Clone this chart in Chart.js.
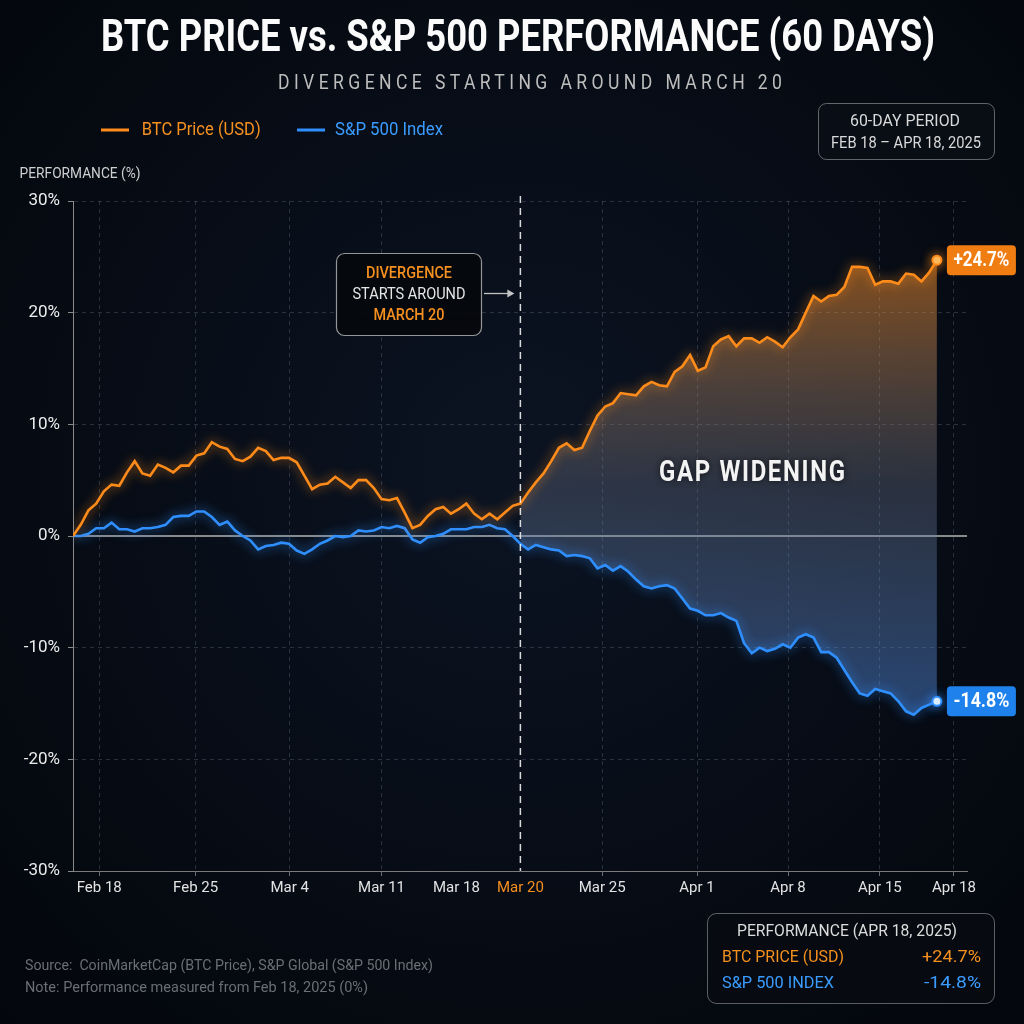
<!DOCTYPE html>
<html><head><meta charset="utf-8">
<script src="https://cdn.jsdelivr.net/npm/chart.js@4.4.1/dist/chart.umd.min.js"></script>
<style>html,body{margin:0;padding:0;background:#050910;}canvas{display:block;}</style>
</head><body>
<canvas id="c" width="1024" height="1024"></canvas>
<script>
// ---------- DATA ----------
const seriesNames = ['BTC Price (USD)', 'S&P 500 Index'];
const btcValues = [
  0.0, 1.0, 2.3, 2.9, 4.0, 4.6, 4.5, 5.7, 6.7, 5.6,
  5.4, 6.4, 6.1, 5.7, 6.3, 6.3, 7.2, 7.4, 8.4, 8.0,
  7.8, 6.9, 6.7, 7.1, 7.9, 7.6, 6.8, 7.0, 7.0, 6.6,
  5.4, 4.2, 4.6, 4.7, 5.3, 4.8, 4.3, 5.0, 5.0, 4.3,
  3.3, 3.2, 3.4, 2.1, 0.7, 1.0, 1.8, 2.4, 2.6, 2.0,
  2.4, 2.9, 2.0, 1.5, 2.0, 1.5, 2.1, 2.7, 2.9, 3.9,
  4.8, 5.6, 6.7, 7.9, 8.3, 7.7, 7.9, 9.4, 10.8, 11.6,
  11.9, 12.8, 12.7, 12.6, 13.4, 13.8, 13.5, 13.4, 14.7, 15.2,
  16.2, 14.8, 15.1, 17.0, 17.6, 17.9, 17.0, 17.7, 17.7, 17.3,
  17.8, 17.4, 16.9, 17.8, 18.5, 20.0, 21.5, 21.0, 21.5, 21.6,
  22.3, 24.1, 24.1, 24.0, 22.5, 22.8, 22.8, 22.6, 23.5, 23.4,
  22.8, 23.6, 24.7
];
const spxValues = [
  0.0, 0.0, 0.2, 0.7, 0.7, 1.2, 0.6, 0.6, 0.4, 0.7,
  0.7, 0.8, 1.0, 1.7, 1.8, 1.8, 2.2, 2.2, 1.7, 1.0,
  1.3, 0.5, 0.0, -0.4, -1.2, -0.9, -0.8, -0.6, -0.7, -1.3,
  -1.6, -1.2, -0.7, -0.4, 0.0, -0.1, 0.0, 0.5, 0.4, 0.5,
  0.8, 0.7, 0.9, 0.7, -0.3, -0.6, -0.1, 0.0, 0.2, 0.6,
  0.6, 0.6, 0.8, 0.8, 1.0, 0.7, 0.6, 0.0, -0.7, -1.2,
  -0.8, -1.0, -1.2, -1.3, -1.8, -1.7, -1.8, -2.0, -2.9, -2.6,
  -3.1, -2.7, -3.2, -3.9, -4.5, -4.7, -4.5, -4.4, -4.7, -5.6,
  -6.5, -6.7, -7.1, -7.1, -6.9, -7.3, -7.6, -9.6, -10.5, -10.0,
  -10.3, -10.1, -9.7, -10.0, -9.1, -8.8, -9.1, -10.4, -10.4, -10.9,
  -12.0, -13.1, -14.1, -14.3, -13.7, -13.9, -14.1, -14.8, -15.7, -16.0,
  -15.4, -15.1, -14.8
];
const tickValues = [3.4, 15.9, 28.1, 40.0, 49.7, 58, 68.6, 80.9, 92.7, 104.6, 114.2];
const tickLabels = ['Feb 18', 'Feb 25', 'Mar 4', 'Mar 11', 'Mar 18', 'Mar 20', 'Mar 25', 'Apr 1', 'Apr 8', 'Apr 15', 'Apr 18'];
const divergenceIndex = 58;
const divergenceLabel = 'Mar 20';

// ---------- STYLE ----------
const ORANGE = '#ff8c1a', BLUE = '#2f8fff';
const ORANGE_TXT = '#f6901f', BLUE_TXT = '#3b9cff';
const GRID = 'rgba(130,140,160,0.28)';
const FONT = 'Roboto, "Noto Sans", sans-serif';
const last = btcValues.length - 1;
const fmt = v => (v > 0 ? '+' : '') + v.toFixed(1) + '%';

function drawText(ctx, str, x, y, o) {
  ctx.save();
  ctx.font = o.font;
  ctx.fillStyle = o.color;
  ctx.textBaseline = 'middle';
  ctx.textAlign = 'left';
  const ls = o.ls || 0;
  const hasLs = 'letterSpacing' in ctx;
  if (hasLs) ctx.letterSpacing = ls + 'px';
  let w = ctx.measureText(str).width;
  if (ls && hasLs) w -= ls;
  const sx = o.width ? o.width / w : (o.sx || 1);
  const dw = w * sx;
  const left = o.align === 'center' ? x - dw / 2 : (o.align === 'right' ? x - dw : x);
  if (o.shadow) { ctx.shadowColor = o.shadow; ctx.shadowBlur = o.blur || 6; }
  ctx.translate(left, y);
  ctx.scale(sx, 1);
  ctx.fillText(str, 0, 0);
  ctx.restore();
}
function rrect(ctx, x, y, w, h, r, fill, stroke, lw) {
  ctx.save();
  ctx.beginPath();
  ctx.roundRect(x, y, w, h, r);
  if (fill) { ctx.fillStyle = fill; ctx.fill(); }
  if (stroke) { ctx.strokeStyle = stroke; ctx.lineWidth = lw || 1; ctx.stroke(); }
  ctx.restore();
}

const decor = {
  id: 'decor',
  beforeDraw(chart) {
    const ctx = chart.ctx, W = chart.width, H = chart.height;
    const g = ctx.createRadialGradient(520, 470, 50, 520, 470, 760);
    g.addColorStop(0, '#0b1321');
    g.addColorStop(1, '#03060b');
    ctx.save(); ctx.fillStyle = g; ctx.fillRect(0, 0, W, H); ctx.restore();
  },
  beforeDatasetsDraw(chart) {
    const ctx = chart.ctx, ca = chart.chartArea, y0 = chart.scales.y.getPixelForValue(0);
    ctx.save();
    ctx.strokeStyle = '#b4b4b4'; ctx.lineWidth = 1.5;
    ctx.beginPath(); ctx.moveTo(ca.left, y0); ctx.lineTo(ca.right, y0); ctx.stroke();
    ctx.restore();
  },
  beforeDatasetDraw(chart, args) {
    if (args.index > 1) return;
    const ctx = chart.ctx;
    ctx.save();
    ctx.shadowColor = args.index === 0 ? 'rgba(255,140,26,0.8)' : 'rgba(47,143,255,0.85)';
    ctx.shadowBlur = 11;
  },
  afterDatasetDraw(chart, args) {
    if (args.index > 1) return;
    chart.ctx.restore();
  },
  afterDatasetsDraw(chart) {
    const ctx = chart.ctx, ca = chart.chartArea;
    const xs = chart.scales.x;
    const dx = xs.getPixelForValue(divergenceIndex);
    ctx.save();
    ctx.strokeStyle = 'rgba(235,235,235,0.92)'; ctx.lineWidth = 1.5; ctx.setLineDash([7, 5]);
    ctx.beginPath(); ctx.moveTo(dx, ca.top - 5); ctx.lineTo(dx, ca.bottom); ctx.stroke();
    ctx.restore();
    drawText(ctx, 'GAP WIDENING', 752, 474, {font: 'bold 29px ' + FONT, color: '#f3f3f3', align: 'center', width: 186, ls: 2, shadow: 'rgba(0,0,0,0.7)', blur: 6});
    const vals = [btcValues[last], spxValues[last]];
    const cols = ['#f07d12', '#1f82ec'];
    [0, 1].forEach(i => {
      const p = chart.getDatasetMeta(i).data[last];
      const bx = p.x + 10, by = p.y - 15;
      rrect(ctx, bx, by, 69, 30, 4, cols[i]);
      drawText(ctx, fmt(vals[i]), bx + 34.5, p.y + 0.5, {font: 'bold 20px ' + FONT, color: '#ffffff', align: 'center', width: 56});
    });
  },
  afterDraw(chart) {
    const ctx = chart.ctx;
    const xs = chart.scales.x;
    drawText(ctx, 'BTC PRICE vs. S&P 500 PERFORMANCE (60 DAYS)', 518, 40, {font: 'bold 45px ' + FONT, color: '#fbfbfb', align: 'center', width: 834});
    drawText(ctx, 'DIVERGENCE STARTING AROUND MARCH 20', 530, 84, {font: '20px ' + FONT, color: '#bdbdbd', align: 'center', width: 504, ls: 5});
    const lg = [[101, 141.7, 119, ORANGE, ORANGE_TXT], [297, 335, 108, BLUE, BLUE_TXT]];
    lg.forEach((l, i) => {
      ctx.save(); ctx.strokeStyle = l[3]; ctx.lineWidth = 3;
      ctx.beginPath(); ctx.moveTo(l[0], 130); ctx.lineTo(l[0] + 28, 130); ctx.stroke(); ctx.restore();
      drawText(ctx, seriesNames[i], l[1], 130.5, {font: '18px ' + FONT, color: l[4], width: l[2]});
    });
    rrect(ctx, 818.5, 103.5, 176, 56, 8, 'rgba(12,16,24,0.6)', 'rgba(190,190,190,0.5)', 1);
    drawText(ctx, '60-DAY PERIOD', 905, 122, {font: '16px ' + FONT, color: '#d9d9d9', align: 'center', width: 110});
    drawText(ctx, 'FEB 18 \u2013 APR 18, 2025', 906, 143.5, {font: '16px ' + FONT, color: '#d9d9d9', align: 'center', width: 150});
    drawText(ctx, 'PERFORMANCE (%)', 19.6, 174, {font: '15px ' + FONT, color: '#cfcfcf', width: 121});
    rrect(ctx, 336.5, 253.5, 145, 82, 8, 'rgba(5,8,12,0.9)', 'rgba(210,210,210,0.7)', 1.2);
    drawText(ctx, 'DIVERGENCE', 409, 273.5, {font: '500 16px ' + FONT, color: ORANGE_TXT, align: 'center', width: 86});
    drawText(ctx, 'STARTS AROUND', 409, 294.5, {font: '16px ' + FONT, color: '#e6e6e6', align: 'center', width: 113});
    drawText(ctx, 'MARCH 20', 409, 316, {font: '500 16px ' + FONT, color: ORANGE_TXT, align: 'center', width: 71});
    const dx = xs.getPixelForValue(divergenceIndex);
    ctx.save();
    ctx.strokeStyle = '#c4c4c4'; ctx.fillStyle = '#c4c4c4'; ctx.lineWidth = 1.3;
    ctx.beginPath(); ctx.moveTo(484, 293.5); ctx.lineTo(dx - 12, 293.5); ctx.stroke();
    ctx.beginPath(); ctx.moveTo(dx - 6, 293.5); ctx.lineTo(dx - 13, 289.5); ctx.lineTo(dx - 13, 297.5); ctx.closePath(); ctx.fill();
    ctx.restore();
    rrect(ctx, 707.5, 913.5, 287, 90, 9, 'rgba(8,12,18,0.85)', 'rgba(200,200,200,0.45)', 1);
    drawText(ctx, 'PERFORMANCE (APR 18, 2025)', 847, 931.5, {font: '16px ' + FONT, color: '#dcdcdc', align: 'center', width: 220});
    drawText(ctx, seriesNames[0].toUpperCase(), 722, 958, {font: '16px ' + FONT, color: ORANGE_TXT, width: 122});
    drawText(ctx, fmt(btcValues[last]), 981, 958, {font: '17px ' + FONT, color: ORANGE_TXT, align: 'right', width: 59});
    drawText(ctx, seriesNames[1].toUpperCase(), 722, 984, {font: '16px ' + FONT, color: BLUE_TXT, width: 112});
    drawText(ctx, fmt(spxValues[last]), 981, 984, {font: '17px ' + FONT, color: BLUE_TXT, align: 'right', width: 57});
    drawText(ctx, 'Source:  CoinMarketCap (BTC Price), S&P Global (S&P 500 Index)', 25, 966.5, {font: '14px ' + FONT, color: '#6b6e75', width: 408});
    drawText(ctx, 'Note: Performance measured from Feb 18, 2025 (0%)', 25, 988.5, {font: '14px ' + FONT, color: '#6b6e75', width: 343});
  }
};

const fillGradient = (c) => {
  const chart = c.chart;
  if (!chart.chartArea) return 'rgba(0,0,0,0)';
  const y = chart.scales.y;
  const g = chart.ctx.createLinearGradient(0, y.getPixelForValue(25), 0, y.getPixelForValue(-16));
  g.addColorStop(0, 'rgba(240,135,35,0.55)');
  g.addColorStop(0.5, 'rgba(115,125,148,0.32)');
  g.addColorStop(1, 'rgba(80,140,230,0.46)');
  return g;
};

const toPts = (arr, start) => arr.slice(start).map((v, k) => ({x: k + start, y: v}));

new Chart(document.getElementById('c'), {
  type: 'line',
  data: {
    datasets: [
      {label: seriesNames[0], data: toPts(btcValues, 0), borderColor: ORANGE, borderWidth: 2.6, tension: 0, fill: false, order: 0,
        pointRadius: c => c.dataIndex === last ? 4.5 : 0, pointBackgroundColor: '#ffc266', pointBorderColor: ORANGE, pointBorderWidth: 2},
      {label: seriesNames[1], data: toPts(spxValues, 0), borderColor: BLUE, borderWidth: 2.6, tension: 0, fill: false, order: 1,
        pointRadius: c => c.dataIndex === last ? 4.5 : 0, pointBackgroundColor: '#ffffff', pointBorderColor: BLUE, pointBorderWidth: 2},
      {label: 'gapTop', data: toPts(btcValues, divergenceIndex), borderWidth: 0, pointRadius: 0, tension: 0, fill: '+1', backgroundColor: fillGradient, order: 5},
      {label: 'gapBottom', data: toPts(spxValues, divergenceIndex), borderWidth: 0, pointRadius: 0, tension: 0, fill: false, order: 6}
    ]
  },
  options: {
    responsive: false,
    devicePixelRatio: 1,
    animation: false,
    events: [],
    layout: {padding: {top: 201, right: 57, bottom: 121, left: 0}},
    plugins: {legend: {display: false}, tooltip: {enabled: false}, title: {display: false}},
    scales: {
      x: {
        type: 'linear', min: 0, max: 115.9,
        afterBuildTicks: s => { s.ticks = tickValues.map(v => ({value: v})); },
        afterFit: s => { s.height = 32; },
        ticks: {
          autoSkip: false, maxRotation: 0, padding: 3,
          callback: (v, i) => tickLabels[i],
          color: c => tickLabels[c.index] === divergenceLabel ? ORANGE_TXT : '#e3e3e3',
          font: {family: FONT, size: 15}
        },
        grid: {
          color: c => (tickLabels[c.index] === 'Mar 18' || tickLabels[c.index] === divergenceLabel) ? 'rgba(0,0,0,0)' : GRID,
          tickColor: c => (tickLabels[c.index] === 'Mar 18' || tickLabels[c.index] === divergenceLabel) ? 'rgba(0,0,0,0)' : '#666b75',
          lineWidth: 1, tickLength: 5
        },
        border: {color: '#7a7a7a', width: 1, dash: [4, 4]}
      },
      y: {
        type: 'linear', min: -30, max: 30,
        afterFit: s => { s.width = 73; },
        ticks: {stepSize: 10, padding: 8, callback: v => v + '%', color: '#ececec', font: {family: FONT, size: 17}},
        grid: {color: c => c.tick && c.tick.value === 0 ? 'rgba(0,0,0,0)' : GRID, tickColor: '#8a8a8a', lineWidth: 1, tickLength: 5},
        border: {color: '#8a8a8a', width: 1, dash: [4, 4]}
      }
    }
  },
  plugins: [decor]
});
</script>
</body></html>
